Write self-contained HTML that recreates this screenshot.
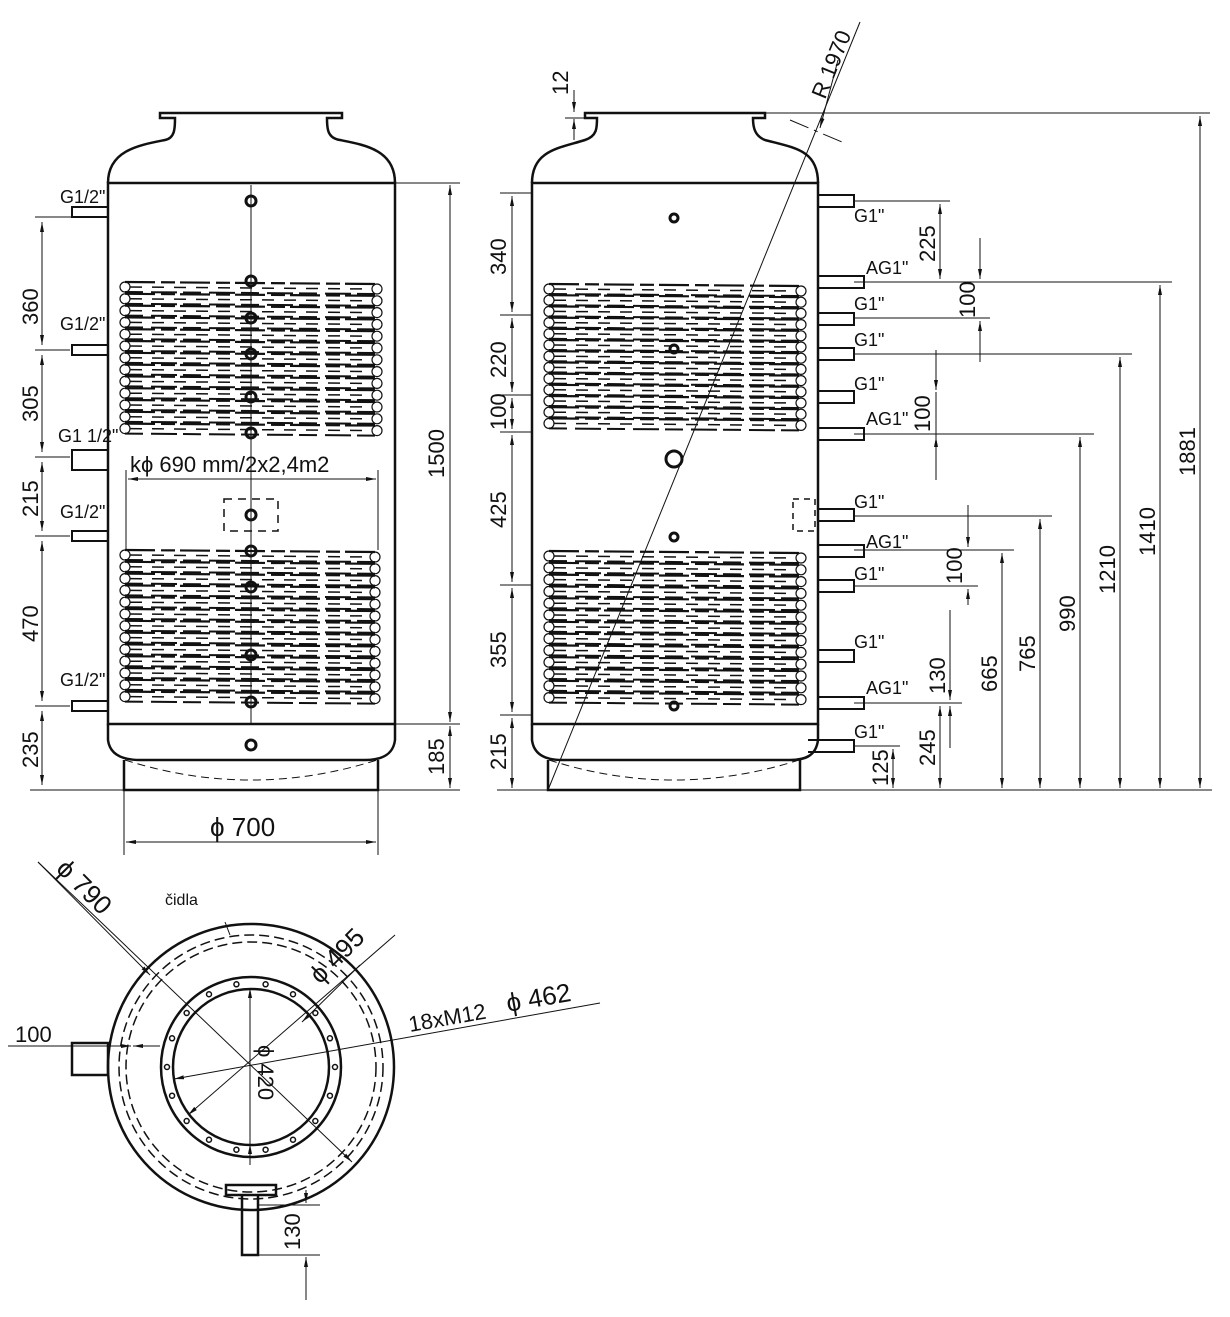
<!DOCTYPE html>
<html><head><meta charset="utf-8"><style>
html,body{margin:0;padding:0;background:#fff;width:1230px;height:1317px;overflow:hidden}
svg{display:block}
text{font-family:"Liberation Sans",sans-serif;fill:#111}
.d{font-size:22px;font-family:"DejaVu Sans Condensed","Liberation Sans",sans-serif}
.g{font-size:18px;font-family:"DejaVu Sans Condensed","Liberation Sans",sans-serif}
</style></head><body>
<svg id="s" width="1230" height="1317" viewBox="0 0 1230 1317" xmlns="http://www.w3.org/2000/svg" fill="none" stroke="#111" stroke-width="1">
<defs>
<marker id="a" viewBox="0 0 10 10" refX="10" refY="5" markerWidth="10" markerHeight="10" orient="auto-start-reverse"><path d="M0,3 L10,5 L0,7 z" fill="#111" stroke="none"/></marker>
</defs>
<!-- LEFT TANK -->
<g stroke-width="2.5">
<path d="M108,183 C108,150 140,145 165,140 C175,138 175,128 175,118 L160,118 L160,113 L342,113 L342,118 L327,118 C327,128 327,138 340,140 C365,145 395,150 395,183"/>
<rect x="108" y="183" width="287" height="541"/>
<path d="M108,724 L108,740 C110,756 125,760 140,760 L365,760 C380,760 393,756 395,740 L395,724"/>
<path d="M124,760 L124,790 L378,790 L378,760"/>
<path d="M108,207 h-36 v10 h36 M108,345 h-36 v10 h36 M108,450 h-36 v20 h36 M108,531 h-36 v10 h36 M108,701 h-36 v10 h36" stroke-width="2"/>
</g>
<path d="M125,760 Q251,800 377,760" stroke-dasharray="8,5"/>
<line x1="30" y1="790" x2="460" y2="790"/>
<line x1="251" y1="185" x2="251" y2="724" stroke-width="1"/>
<g stroke-width="3"><circle cx="251" cy="201" r="5"/><circle cx="251" cy="281" r="5"/><circle cx="251" cy="318" r="5"/><circle cx="251" cy="354" r="5"/><circle cx="251" cy="397" r="5"/><circle cx="251" cy="433" r="5"/><circle cx="251" cy="515" r="5"/><circle cx="251" cy="551" r="5"/><circle cx="251" cy="587" r="5"/><circle cx="251" cy="655" r="5"/><circle cx="251" cy="702" r="5"/><circle cx="251" cy="745" r="5"/></g>
<rect x="224" y="499" width="54" height="32" stroke-dasharray="8,6" stroke-width="1.5"/>
<g id="coilL"></g>
<!-- left dims -->
<g stroke-width="1">
<path d="M35,217 h37 M35,350 h35 M35,457 h35 M35,536 h35 M35,706 h35"/>
<line x1="42" y1="222" x2="42" y2="345" marker-start="url(#a)" marker-end="url(#a)"/>
<line x1="42" y1="355" x2="42" y2="452" marker-start="url(#a)" marker-end="url(#a)"/>
<line x1="42" y1="462" x2="42" y2="531" marker-start="url(#a)" marker-end="url(#a)"/>
<line x1="42" y1="541" x2="42" y2="701" marker-start="url(#a)" marker-end="url(#a)"/>
<line x1="42" y1="711" x2="42" y2="785" marker-start="url(#a)" marker-end="url(#a)"/>
<path d="M395,183 h65 M395,724 h65"/>
<line x1="450" y1="185" x2="450" y2="722" marker-start="url(#a)" marker-end="url(#a)"/>
<line x1="450" y1="726" x2="450" y2="788" marker-start="url(#a)" marker-end="url(#a)"/>
<line x1="128" y1="479" x2="376" y2="479" marker-start="url(#a)" marker-end="url(#a)"/>
<path d="M126,470 V550 M378,470 V550"/>
<path d="M124,790 V855 M378,790 V855"/>
<line x1="126" y1="842" x2="376" y2="842" marker-start="url(#a)" marker-end="url(#a)"/>
</g>
<g class="d" stroke="none">
<text transform="translate(38,325) rotate(-90)">360</text>
<text transform="translate(38,422) rotate(-90)">305</text>
<text transform="translate(38,517) rotate(-90)">215</text>
<text transform="translate(38,642) rotate(-90)">470</text>
<text transform="translate(38,768) rotate(-90)">235</text>
<text transform="translate(444,478) rotate(-90)">1500</text>
<text transform="translate(444,775) rotate(-90)">185</text>
<text x="130" y="472">kϕ 690 mm/2x2,4m2</text>
<text x="210" y="836" font-size="26">ϕ 700</text>
</g>
<g class="g" stroke="none"><text x="60" y="203">G1/2"</text><text x="60" y="330">G1/2"</text><text x="58" y="442">G1 1/2"</text><text x="60" y="518">G1/2"</text><text x="60" y="686">G1/2"</text></g>

<!-- RIGHT TANK -->
<g stroke-width="2.5">
<path d="M532,183 C532,150 560,148 585,140 C597,136 597,128 597,118 L585,118 L585,113 L765,113 L765,118 L753,118 C753,128 755,136 765,140 C795,148 818,150 818,183"/>
<rect x="532" y="183" width="286" height="541"/>
<path d="M532,724 L532,740 C534,756 548,760 562,760 L790,760 C805,760 816,756 818,740 L818,724"/>
<path d="M548,760 L548,790 L800,790 L800,760"/>
<path d="M818,195 h36 v12 h-36 M818,276 h46 v12 h-46 M818,313 h36 v12 h-36 M818,348 h36 v12 h-36 M818,391 h36 v12 h-36 M818,428 h46 v12 h-46 M818,509 h36 v12 h-36 M818,545 h46 v12 h-46 M818,580 h36 v12 h-36 M818,650 h36 v12 h-36 M818,697 h46 v12 h-46 M808,740 h46 v12 h-46" stroke-width="2"/>
</g>
<path d="M549,760 Q674,800 799,760" stroke-dasharray="8,5"/>
<rect x="793" y="499" width="22" height="32" stroke-dasharray="6,5" stroke-width="1.5"/>
<line x1="497" y1="790" x2="1212" y2="790"/>
<line x1="548" y1="790" x2="860" y2="22"/>
<g stroke-width="3"><circle cx="674" cy="218" r="4"/><circle cx="674" cy="349" r="4"/><circle cx="674" cy="459" r="8"/><circle cx="674" cy="537" r="4"/><circle cx="674" cy="706" r="4"/></g>
<g id="coilR"></g>
<!-- right dims -->
<g stroke-width="1">
<path d="M765,113 H1210 M565,118 H585"/>
<line x1="574" y1="90" x2="574" y2="112" marker-end="url(#a)"/>
<line x1="574" y1="140" x2="574" y2="119" marker-end="url(#a)"/>
<path d="M500,193 h32 M500,315 h32 M500,395 h32 M500,432 h32 M500,585 h32 M500,715 h32"/>
<line x1="512" y1="196" x2="512" y2="312" marker-start="url(#a)" marker-end="url(#a)"/>
<line x1="512" y1="318" x2="512" y2="392" marker-start="url(#a)" marker-end="url(#a)"/>
<line x1="512" y1="398" x2="512" y2="429" marker-start="url(#a)" marker-end="url(#a)"/>
<line x1="512" y1="435" x2="512" y2="582" marker-start="url(#a)" marker-end="url(#a)"/>
<line x1="512" y1="588" x2="512" y2="712" marker-start="url(#a)" marker-end="url(#a)"/>
<line x1="512" y1="718" x2="512" y2="788" marker-start="url(#a)" marker-end="url(#a)"/>
<path d="M854,201 H950 M854,282 H1172 M854,318 H990 M854,354 H1132 M854,434 H1094 M854,516 H1052 M854,550 H1014 M854,586 H978 M854,703 H962 M854,746 H900"/>
<line x1="940" y1="204" x2="940" y2="279" marker-start="url(#a)" marker-end="url(#a)"/>
<line x1="980" y1="238" x2="980" y2="279" marker-end="url(#a)"/>
<line x1="980" y1="362" x2="980" y2="321" marker-end="url(#a)"/>
<line x1="936" y1="392" x2="936" y2="437"/><line x1="936" y1="350" x2="936" y2="390" marker-end="url(#a)"/>
<line x1="936" y1="480" x2="936" y2="437" marker-end="url(#a)"/>
<line x1="968" y1="505" x2="968" y2="547" marker-end="url(#a)"/>
<line x1="968" y1="605" x2="968" y2="589" marker-end="url(#a)"/>
<line x1="950" y1="610" x2="950" y2="700" marker-end="url(#a)"/>
<line x1="950" y1="748" x2="950" y2="706" marker-end="url(#a)"/>
<line x1="940" y1="706" x2="940" y2="788" marker-start="url(#a)" marker-end="url(#a)"/>
<line x1="893" y1="749" x2="893" y2="788" marker-start="url(#a)" marker-end="url(#a)"/>
<line x1="1002" y1="553" x2="1002" y2="788" marker-start="url(#a)" marker-end="url(#a)"/>
<line x1="1040" y1="519" x2="1040" y2="788" marker-start="url(#a)" marker-end="url(#a)"/>
<line x1="1080" y1="437" x2="1080" y2="788" marker-start="url(#a)" marker-end="url(#a)"/>
<line x1="1120" y1="357" x2="1120" y2="788" marker-start="url(#a)" marker-end="url(#a)"/>
<line x1="1160" y1="285" x2="1160" y2="788" marker-start="url(#a)" marker-end="url(#a)"/>
<line x1="1200" y1="116" x2="1200" y2="788" marker-start="url(#a)" marker-end="url(#a)"/>
<line x1="790" y1="120" x2="842" y2="142" stroke-dasharray="20,6,4,6"/>
<line x1="838" y1="60" x2="820" y2="128" marker-end="url(#a)"/>
</g>
<g class="d" stroke="none">
<text transform="translate(568,95) rotate(-90)">12</text>
<text transform="translate(825,100) rotate(-68)">R 1970</text>
<text transform="translate(506,275) rotate(-90)">340</text>
<text transform="translate(506,378) rotate(-90)">220</text>
<text transform="translate(506,430) rotate(-90)">100</text>
<text transform="translate(506,528) rotate(-90)">425</text>
<text transform="translate(506,668) rotate(-90)">355</text>
<text transform="translate(506,770) rotate(-90)">215</text>
<text transform="translate(935,262) rotate(-90)">225</text>
<text transform="translate(975,318) rotate(-90)">100</text>
<text transform="translate(930,432) rotate(-90)">100</text>
<text transform="translate(962,584) rotate(-90)">100</text>
<text transform="translate(945,694) rotate(-90)">130</text>
<text transform="translate(935,766) rotate(-90)">245</text>
<text transform="translate(888,786) rotate(-90)">125</text>
<text transform="translate(997,692) rotate(-90)">665</text>
<text transform="translate(1035,672) rotate(-90)">765</text>
<text transform="translate(1075,632) rotate(-90)">990</text>
<text transform="translate(1115,594) rotate(-90)">1210</text>
<text transform="translate(1155,556) rotate(-90)">1410</text>
<text transform="translate(1195,476) rotate(-90)">1881</text>
</g>
<g class="g" stroke="none"><text x="854" y="222">G1"</text><text x="866" y="274">AG1"</text><text x="854" y="310">G1"</text><text x="854" y="346">G1"</text><text x="854" y="390">G1"</text><text x="866" y="425">AG1"</text><text x="854" y="508">G1"</text><text x="866" y="548">AG1"</text><text x="854" y="580">G1"</text><text x="854" y="648">G1"</text><text x="866" y="694">AG1"</text><text x="854" y="738">G1"</text></g>

<!-- TOP VIEW -->
<g stroke-width="2.5">
<circle cx="251" cy="1067" r="143"/>
<circle cx="251" cy="1067" r="90"/>
<circle cx="251" cy="1067" r="78"/>
<path d="M72,1043 h36 v32 h-36 z M242,1195 h16 v60 h-16 z M226,1185 h50 v10 h-50 z"/>
</g>
<circle cx="251" cy="1067" r="125" stroke-dasharray="10,5" stroke-width="1.5"/>
<circle cx="251" cy="1067" r="132" stroke-dasharray="10,5" stroke-width="1.5"/>
<g id="holes"></g>
<g stroke-width="1">
<line x1="38" y1="862" x2="352" y2="1162" marker-end="url(#a)"/>
<line x1="38" y1="862" x2="150" y2="975" marker-end="url(#a)"/>
<line x1="395" y1="935" x2="188" y2="1115" marker-end="url(#a)"/>
<line x1="360" y1="965" x2="302" y2="1022" marker-end="url(#a)"/>
<line x1="600" y1="1003" x2="174" y2="1079" marker-end="url(#a)"/>
<line x1="250" y1="1165" x2="250" y2="988" marker-end="url(#a)"/>
<line x1="250" y1="1165" x2="250" y2="1144" marker-end="url(#a)"/>
<line x1="8" y1="1046" x2="130" y2="1046"/>
<line x1="60" y1="1046" x2="131" y2="1046" marker-end="url(#a)"/>
<line x1="160" y1="1046" x2="133" y2="1046" marker-end="url(#a)"/>
<path d="M258,1205 H320 M258,1255 H320 M230,935 L225,922"/>
<line x1="306" y1="1190" x2="306" y2="1203" marker-end="url(#a)"/>
<line x1="306" y1="1300" x2="306" y2="1257" marker-end="url(#a)"/>
</g>
<g class="d" stroke="none">
<text transform="translate(55,870) rotate(45)" font-size="26">ϕ 790</text>
<text transform="translate(320,985) rotate(-45)" font-size="26">ϕ 495</text>
<text transform="translate(410,1032) rotate(-10)">18xM12</text>
<text transform="translate(508,1012) rotate(-10)" font-size="26">ϕ 462</text>
<text transform="translate(258,1045) rotate(90)">ϕ 420</text>
<text x="15" y="1042">100</text>
<text transform="translate(300,1250) rotate(-90)">130</text>
</g>
<text x="165" y="905" font-size="16" stroke="none">čidla</text>
</svg>
<script>
var NS="http://www.w3.org/2000/svg";
function el(p,t,a){var e=document.createElementNS(NS,t);for(var k in a)e.setAttribute(k,a[k]);p.appendChild(e);return e;}
function coil(id,x1,x2,y0,n,dy){var g=document.getElementById(id);
for(var i=0;i<n;i++){var y=y0+i*dy;
el(g,"circle",{cx:x1+5,cy:y,r:5,"stroke-width":1.2});
el(g,"circle",{cx:x2-5,cy:y+2,r:5,"stroke-width":1.2});
el(g,"line",{x1:x1+5,y1:y-5,x2:x2-5,y2:y-3,"stroke-width":2.2,"stroke-dasharray":"30,6,14,5"});
el(g,"line",{x1:x1+5,y1:y+5,x2:x2-5,y2:y+7,"stroke-width":2,"stroke-dasharray":"18,8,26,6"});
el(g,"line",{x1:x1+10,y1:y,x2:x2-10,y2:y+2,"stroke-width":1.5,"stroke-dasharray":"12,10"});}}
coil("coilL",120,382,287,13,11.8);
coil("coilL",120,380,555,13,11.8);
coil("coilR",544,806,289,13,11.2);
coil("coilR",544,806,556,13,11.8);
var h=document.getElementById("holes");
for(var i=0;i<18;i++){var a=i*Math.PI*2/18;el(h,"circle",{cx:251+84*Math.cos(a),cy:1067+84*Math.sin(a),r:2.5,"stroke-width":1.5});}
</script>
</body></html>
